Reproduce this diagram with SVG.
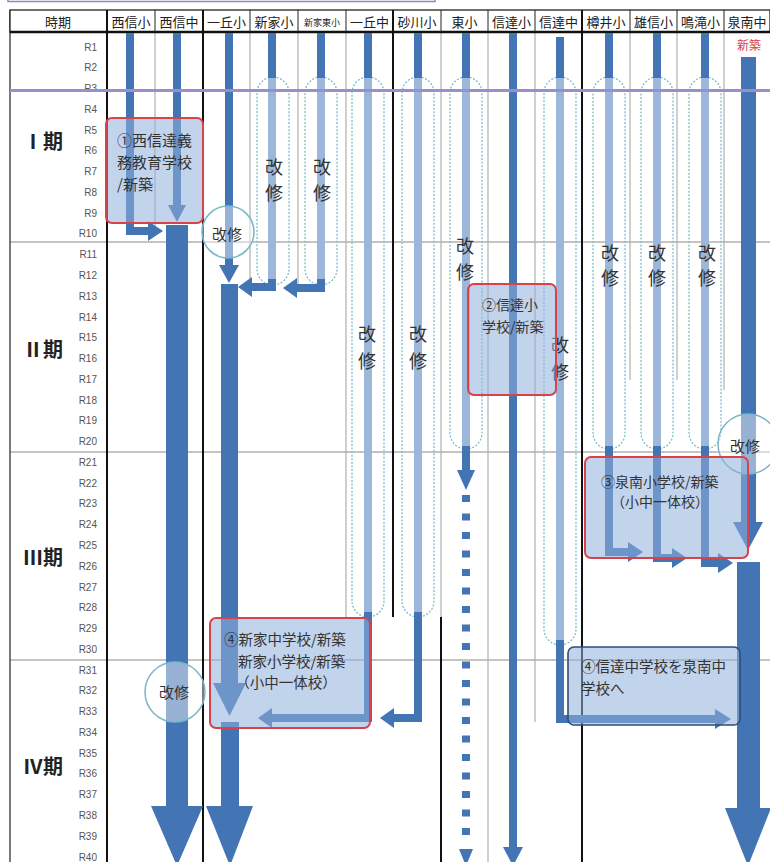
<svg xmlns="http://www.w3.org/2000/svg" width="770" height="862" viewBox="0 0 770 862">
<style>
.dk{fill:#4374b3}
.lt{fill:#9cb7d9}
.st{fill:none;stroke:#7fbccc;stroke-width:1.3;stroke-dasharray:2 1.6}
.gl{stroke:#b3adad;stroke-width:1.2}
.bl{stroke:#111;stroke-width:2}
.hl{stroke:#8c8787;stroke-width:1.2}
.box{fill:#8fb0dc;fill-opacity:.55;stroke:#d8434b;stroke-width:2}
.box2{fill:#8fb0dc;fill-opacity:.55;stroke:#2f4c7a;stroke-width:1.6}
.cir{fill:#fff;fill-opacity:.45;stroke:#79b6ca;stroke-width:1.5}
.t{font-family:"Noto Sans CJK JP","Noto Sans",sans-serif;fill:#333}
.h{font-size:13px;text-anchor:middle;fill:#222}
.r{font-family:"Liberation Sans",Arial,sans-serif;font-size:10px;fill:#555;text-anchor:end}
.v{font-size:18px;text-anchor:middle}
.c{font-size:15px;text-anchor:middle}
.b{font-size:14.5px}
.p{font-size:20px;font-weight:bold;text-anchor:middle;fill:#222}
</style>
<rect width="770" height="862" fill="#fff"/>
<path d="M8,-2 V1.5 H435 V-2" fill="none" stroke="#8a8cc0" stroke-width="1.5"/>

<g id="grid">
  <line class="hl" x1="10" y1="242" x2="770" y2="242"/>
  <line class="hl" x1="10" y1="452" x2="770" y2="452"/>
  <line class="hl" x1="10" y1="660" x2="770" y2="660"/>
  <line class="gl" x1="155" y1="32" x2="155" y2="228"/>
  <line class="gl" x1="250" y1="32" x2="250" y2="284"/>
  <line class="gl" x1="298" y1="32" x2="298" y2="284"/>
  <line class="gl" x1="346" y1="32" x2="346" y2="617"/>
  <line class="gl" x1="441" y1="32" x2="441" y2="617"/>
  <line class="gl" x1="488" y1="32" x2="488" y2="862"/>
  <line class="gl" x1="535" y1="32" x2="535" y2="722"/>
  <line class="gl" x1="630" y1="32" x2="630" y2="380"/>
  <line class="gl" x1="677" y1="32" x2="677" y2="380"/>
  <line class="gl" x1="724" y1="32" x2="724" y2="390"/>
  <line stroke="#333" stroke-width="1.3" x1="10" y1="10" x2="10" y2="862"/>
  <line class="bl" x1="107" y1="10" x2="107" y2="862"/>
  <line class="bl" x1="203" y1="10" x2="203" y2="862"/>
  <line class="bl" x1="393" y1="10" x2="393" y2="617"/>
  <line class="bl" x1="441" y1="617" x2="441" y2="862"/>
  <line class="bl" x1="582" y1="10" x2="582" y2="862"/>
</g>

<g id="header">
  <rect x="10" y="10" width="760" height="22" fill="#fff" stroke="#222" stroke-width="1.3"/>
  <line x1="10" y1="32" x2="770" y2="32" stroke="#111" stroke-width="2.5"/>
  <g stroke="#222" stroke-width="1">
    <line x1="155" y1="10" x2="155" y2="32"/>
    <line x1="250" y1="10" x2="250" y2="32"/>
    <line x1="298" y1="10" x2="298" y2="32"/>
    <line x1="346" y1="10" x2="346" y2="32"/>
    <line x1="441" y1="10" x2="441" y2="32"/>
    <line x1="488" y1="10" x2="488" y2="32"/>
    <line x1="535" y1="10" x2="535" y2="32"/>
    <line x1="630" y1="10" x2="630" y2="32"/>
    <line x1="677" y1="10" x2="677" y2="32"/>
    <line x1="724" y1="10" x2="724" y2="32"/>
  </g>
  <g stroke="#111" stroke-width="2">
    <line x1="107" y1="10" x2="107" y2="32"/>
    <line x1="203" y1="10" x2="203" y2="32"/>
    <line x1="393" y1="10" x2="393" y2="32"/>
    <line x1="582" y1="10" x2="582" y2="32"/>
  </g>
  <g class="t h">
    <text x="58" y="26.5">時期</text>
    <text x="131" y="26.5">西信小</text>
    <text x="179" y="26.5">西信中</text>
    <text x="226.5" y="26.5">一丘小</text>
    <text x="274" y="26.5">新家小</text>
    <text x="322" y="25.5" style="font-size:9px">新家東小</text>
    <text x="369.5" y="26.5">一丘中</text>
    <text x="417" y="26.5">砂川小</text>
    <text x="464.5" y="26.5">東小</text>
    <text x="511.5" y="26.5">信達小</text>
    <text x="558.5" y="26.5">信達中</text>
    <text x="606" y="26.5">樽井小</text>
    <text x="653.5" y="26.5">雄信小</text>
    <text x="700.5" y="26.5">鳴滝小</text>
    <text x="747" y="26.5">泉南中</text>
  </g>
</g>

<g id="rows" class="r">
  <text x="97" y="50.5">R1</text><text x="97" y="71.2">R2</text><text x="97" y="92">R3</text><text x="97" y="112.8">R4</text>
  <text x="97" y="133.6">R5</text><text x="97" y="154.3">R6</text><text x="97" y="175.1">R7</text><text x="97" y="195.9">R8</text>
  <text x="97" y="216.6">R9</text><text x="97" y="237.4">R10</text><text x="97" y="258.2">R11</text><text x="97" y="279">R12</text>
  <text x="97" y="299.7">R13</text><text x="97" y="320.5">R14</text><text x="97" y="341.3">R15</text><text x="97" y="362">R16</text>
  <text x="97" y="382.8">R17</text><text x="97" y="403.6">R18</text><text x="97" y="424.3">R19</text><text x="97" y="445.1">R20</text>
  <text x="97" y="465.9">R21</text><text x="97" y="486.7">R22</text><text x="97" y="507.4">R23</text><text x="97" y="528.2">R24</text>
  <text x="97" y="549">R25</text><text x="97" y="569.7">R26</text><text x="97" y="590.5">R27</text><text x="97" y="611.3">R28</text>
  <text x="97" y="632">R29</text><text x="97" y="652.8">R30</text><text x="97" y="673.6">R31</text><text x="97" y="694.4">R32</text>
  <text x="97" y="715.1">R33</text><text x="97" y="735.9">R34</text><text x="97" y="756.7">R35</text><text x="97" y="777.4">R36</text>
  <text x="97" y="798.2">R37</text><text x="97" y="819">R38</text><text x="97" y="839.7">R39</text><text x="97" y="860.5">R40</text>
</g>

<g id="periods" class="t p">
  <text x="43" y="149">Ⅰ期</text>
  <text x="43" y="357">Ⅱ期</text>
  <text x="43" y="565">Ⅲ期</text>
  <text x="43" y="774">Ⅳ期</text>
</g>

<g id="renovation-spans">
  <rect class="st" x="257" y="77" width="32" height="208" rx="16"/>
  <rect class="st" x="305" y="77" width="32" height="208" rx="16"/>
  <rect class="st" x="352" y="77" width="32" height="540" rx="16"/>
  <rect class="st" x="402" y="77" width="32" height="540" rx="16"/>
  <rect class="st" x="450" y="77" width="32" height="372" rx="16"/>
  <rect class="st" x="544" y="77" width="32" height="568" rx="16"/>
  <rect class="st" x="593" y="77" width="32" height="372" rx="16"/>
  <rect class="st" x="641" y="77" width="32" height="372" rx="16"/>
  <rect class="st" x="689" y="77" width="32" height="372" rx="16"/>
  <rect class="lt" x="268" y="78" width="8" height="204"/>
  <rect class="lt" x="317" y="78" width="8" height="204"/>
  <rect class="lt" x="364" y="78" width="8" height="536"/>
  <rect class="lt" x="414" y="78" width="8" height="536"/>
  <rect class="lt" x="462" y="78" width="8" height="370"/>
  <rect class="lt" x="556" y="78" width="8" height="564"/>
  <rect class="lt" x="605" y="78" width="8" height="370"/>
  <rect class="lt" x="653" y="78" width="8" height="370"/>
  <rect class="lt" x="701" y="78" width="8" height="370"/>
</g>

<g id="connectors" class="dk">
  <!-- 西信小 -->
  <rect x="126" y="33" width="8" height="202"/>
  <rect x="126" y="227" width="24" height="8"/>
  <polygon points="148,221 163,231 148,241"/>
  <!-- 西信中 -->
  <rect x="173" y="33" width="8" height="174"/>
  <polygon points="168,205 186,205 177,222"/>
  <rect x="166" y="225" width="22" height="583"/>
  <polygon points="151,806 203,806 177,866"/>
  <!-- 一丘小 -->
  <rect x="225" y="33" width="8" height="234"/>
  <polygon points="219,265 239,265 229,283"/>
  <rect x="221" y="284" width="17" height="401"/>
  <polygon points="213,683 246,683 229.5,716"/>
  <rect x="221" y="722" width="18" height="86"/>
  <polygon points="206,806 253,806 230,866"/>
  <!-- 新家小 -->
  <rect x="268" y="33" width="8" height="45"/>
  <rect x="268" y="279" width="8" height="12"/>
  <rect x="250" y="283" width="26" height="8"/>
  <polygon points="252,277 252,297 238,287"/>
  <!-- 新家東小 -->
  <rect x="317" y="33" width="8" height="45"/>
  <rect x="317" y="279" width="8" height="13"/>
  <rect x="295" y="284" width="30" height="8"/>
  <polygon points="297,278 297,298 283,288"/>
  <!-- 一丘中 -->
  <rect x="364" y="33" width="8" height="45"/>
  <rect x="364" y="612" width="8" height="110"/>
  <rect x="270" y="714" width="102" height="8"/>
  <polygon points="272,708 272,728 258,718"/>
  <!-- 砂川小 -->
  <rect x="414" y="33" width="8" height="45"/>
  <rect x="414" y="612" width="8" height="110"/>
  <rect x="392" y="714" width="30" height="8"/>
  <polygon points="394,708 394,728 380,718"/>
  <!-- 東小 -->
  <rect x="462" y="33" width="8" height="45"/>
  <rect x="462" y="446" width="8" height="26"/>
  <polygon points="457,470 475,470 466,490"/>
  <line x1="466" y1="495" x2="466" y2="846" stroke="#4374b3" stroke-width="8" stroke-dasharray="7 11.5"/>
  <polygon points="459,849 473,849 466,866"/>
  <!-- 信達小 -->
  <rect x="509" y="33" width="8" height="816"/>
  <polygon points="503,847 523,847 513,866"/>
  <!-- 信達中 -->
  <rect x="556" y="37" width="8" height="41"/>
  <rect x="556" y="640" width="8" height="83"/>
  <rect x="556" y="715" width="161" height="8"/>
  <polygon points="715,709 715,729 731,719"/>
  <!-- 樽井小 -->
  <rect x="605" y="33" width="8" height="45"/>
  <rect x="605" y="446" width="8" height="110"/>
  <rect x="605" y="548" width="25" height="8"/>
  <polygon points="628,542 628,562 643,552"/>
  <!-- 雄信小 -->
  <rect x="653" y="33" width="8" height="45"/>
  <rect x="653" y="446" width="8" height="116"/>
  <rect x="653" y="554" width="21" height="8"/>
  <polygon points="672,548 672,568 687,558"/>
  <!-- 鳴滝小 -->
  <rect x="701" y="33" width="8" height="45"/>
  <rect x="701" y="446" width="8" height="121"/>
  <rect x="701" y="559" width="19" height="8"/>
  <polygon points="718,553 718,573 733,563"/>
  <!-- 泉南中 -->
  <rect x="741" y="57" width="15" height="467"/>
  <polygon points="733,522 763,522 748,550"/>
  <rect x="737" y="562" width="23" height="248"/>
  <polygon points="725,808 771,808 748,866"/>
</g>

<line id="milestone" x1="10" y1="90.5" x2="770" y2="90.5" stroke="#9b8fcb" stroke-width="3"/>

<g id="label-new-izuminan" class="t">
  <text x="749" y="50" style="font-size:12px;fill:#d8434b" text-anchor="middle">新築</text>
</g>

<g id="renovation-labels" class="t v">
  <text x="274" y="173.5">改</text><text x="274" y="199.5">修</text>
  <text x="322" y="173.5">改</text><text x="322" y="199.5">修</text>
  <text x="367" y="340.5">改</text><text x="367" y="367.5">修</text>
  <text x="418" y="340.5">改</text><text x="418" y="367.5">修</text>
  <text x="465" y="252.5">改</text><text x="465" y="278.5">修</text>
  <text x="560" y="351.5">改</text><text x="560" y="378.5">修</text>
  <text x="610" y="259.5">改</text><text x="610" y="284.5">修</text>
  <text x="657" y="259.5">改</text><text x="657" y="284.5">修</text>
  <text x="707" y="259.5">改</text><text x="707" y="284.5">修</text>
</g>

<g id="circle-ichigaoka-sho">
  <circle class="cir" cx="228" cy="232" r="26"/>
  <text class="t c" x="227" y="240">改修</text>
</g>
<g id="circle-izuminan-chu">
  <circle class="cir" cx="748" cy="444" r="30"/>
  <text class="t c" x="745" y="452">改修</text>
</g>
<g id="circle-nishinobu-chu">
  <circle class="cir" cx="175" cy="692" r="30"/>
  <text class="t c" x="174" y="698">改修</text>
</g>

<g id="box1">
  <rect class="box" x="106" y="118" width="97" height="105" rx="6"/>
  <g class="t" style="font-size:15px">
    <text x="117" y="146">①西信達義</text>
    <text x="117" y="168">務教育学校</text>
    <text x="117" y="190">/新築</text>
  </g>
</g>
<g id="box2">
  <rect class="box" x="468" y="284" width="88" height="111" rx="6"/>
  <g class="t" style="font-size:14px">
    <text x="482" y="310">②信達小</text>
    <text x="482" y="332">学校/新築</text>
  </g>
</g>
<g id="box3">
  <rect class="box" x="585" y="457" width="163" height="101" rx="6"/>
  <g class="t" style="font-size:14px">
    <text x="601" y="487">③泉南小学校/新築</text>
    <text x="660" y="507" text-anchor="middle">（小中一体校）</text>
  </g>
</g>
<g id="box4">
  <rect class="box" x="210" y="618" width="160" height="110" rx="6"/>
  <g class="t" style="font-size:14.5px">
    <text x="224" y="645">④新家中学校/新築</text>
    <text x="238" y="667">新家小学校/新築</text>
    <text x="286" y="688" text-anchor="middle">（小中一体校）</text>
  </g>
</g>
<g id="box5">
  <rect class="box2" x="568" y="647" width="172" height="78" rx="6"/>
  <g class="t" style="font-size:14.5px">
    <text x="581" y="672">④信達中学校を泉南中</text>
    <text x="581" y="694">学校へ</text>
  </g>
</g>
</svg>
